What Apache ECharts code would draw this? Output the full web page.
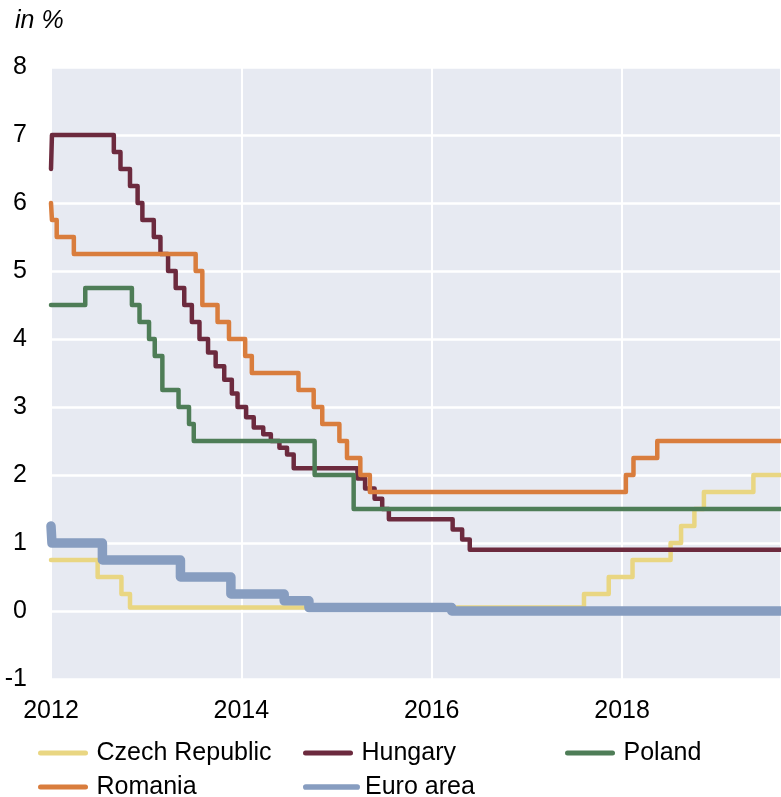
<!DOCTYPE html>
<html>
<head>
<meta charset="utf-8">
<script src="https://cdn.jsdelivr.net/npm/echarts@6/dist/echarts.min.js"></script>
<style>
  html, body { margin: 0; padding: 0; background: #fff; }
  #main { width: 781px; height: 797px; }
</style>
</head>
<body>
<div id="main"></div>
<script>
// policy rates, change points as decimal years
var czechDates = [2012.00, 2012.49, 2012.74, 2012.83, 2017.60, 2017.86, 2018.11, 2018.51, 2018.62, 2018.76, 2018.86, 2019.38, 2019.67];
var czechRates = [0.75, 0.5, 0.25, 0.05, 0.25, 0.5, 0.75, 1.0, 1.25, 1.5, 1.75, 2.0, 2.0];

var hungaryDates = [2012.00, 2012.01, 2012.66, 2012.73, 2012.83, 2012.91, 2012.96, 2013.08, 2013.15, 2013.23, 2013.31, 2013.40, 2013.48, 2013.56, 2013.65, 2013.73, 2013.82, 2013.90, 2013.96, 2014.05, 2014.13, 2014.23, 2014.31, 2014.40, 2014.48, 2014.55, 2015.22, 2015.30, 2015.40, 2015.48, 2015.55, 2016.22, 2016.32, 2016.40, 2019.67];
var hungaryRates = [6.5, 7.0, 6.75, 6.5, 6.25, 6.0, 5.75, 5.5, 5.25, 5.0, 4.75, 4.5, 4.25, 4.0, 3.8, 3.6, 3.4, 3.2, 3.0, 2.85, 2.7, 2.6, 2.5, 2.4, 2.3, 2.1, 1.95, 1.8, 1.65, 1.5, 1.35, 1.2, 1.05, 0.9, 0.9];

var polandDates = [2012.00, 2012.36, 2012.85, 2012.93, 2013.03, 2013.09, 2013.17, 2013.34, 2013.45, 2013.50, 2014.77, 2015.18, 2019.67];
var polandRates = [4.5, 4.75, 4.5, 4.25, 4.0, 3.75, 3.25, 3.0, 2.75, 2.5, 2.0, 1.5, 1.5];

var romaniaDates = [2012.00, 2012.01, 2012.06, 2012.24, 2013.52, 2013.59, 2013.75, 2013.87, 2014.04, 2014.11, 2014.60, 2014.76, 2014.85, 2015.03, 2015.11, 2015.25, 2015.35, 2018.04, 2018.12, 2018.37, 2019.67];
var romaniaRates = [6.0, 5.75, 5.5, 5.25, 5.0, 4.5, 4.25, 4.0, 3.75, 3.5, 3.25, 3.0, 2.75, 2.5, 2.25, 2.0, 1.75, 2.0, 2.25, 2.5, 2.5];

var euroDates = [2012.00, 2012.01, 2012.54, 2013.36, 2013.89, 2014.45, 2014.71, 2016.21, 2019.67];
var euroRates = [1.25, 1.0, 0.75, 0.5, 0.25, 0.15, 0.05, 0.0, 0.0];

var yearTicks = [2012, 2014, 2016, 2018];

function pairs(xs, ys) {
    var out = [];
    for (var i = 0; i < xs.length; i++) out.push([xs[i], ys[i]]);
    return out;
}

var font = 'Liberation Sans, Arial, sans-serif';
var capsule = 'path://M5,0 H95 A5,5 0 0 1 95,10 H5 A5,5 0 0 1 5,0 Z';

function stepSeries(name, xs, ys, color, width) {
    return {
        name: name,
        type: 'line',
        step: 'end',
        symbol: 'none',
        data: pairs(xs, ys),
        lineStyle: { color: color, width: width, cap: 'round', join: 'round' },
        itemStyle: { color: color },
        animation: false
    };
}

// one legend per entry so the 3-column layout can be placed exactly
function legendItem(name, left, top, thick) {
    return {
        data: [{ name: name, icon: capsule }],
        left: left, top: top,
        itemWidth: 57, itemHeight: thick,
        textStyle: { fontSize: 25, lineHeight: 26, color: '#000', fontFamily: font, padding: [0, 0, 0, 0] }
    };
}

var myChart = echarts.init(document.getElementById('main'));
var option = {
    textStyle: { fontFamily: font },
    title: {
        text: 'in %',
        left: 10,
        top: 4,
        textStyle: { fontFamily: font, fontStyle: 'italic', fontWeight: 'normal', fontSize: 25, color: '#000' }
    },
    grid: {
        left: 51, right: 0, top: 67, bottom: 118,
        show: true, backgroundColor: '#E7EAF2', borderWidth: 0
    },
    xAxis: {
        type: 'value',
        min: 2012, max: 2019.67, interval: 2,
        axisLine: { show: false }, axisTick: { show: false },
        splitLine: { show: true, lineStyle: { color: '#fff', width: 2 } },
        axisLabel: {
            margin: 20, fontSize: 25, color: '#000', fontFamily: font, showMaxLabel: false,
            formatter: function (v) { return yearTicks.indexOf(v) >= 0 ? String(v) : ''; }
        }
    },
    yAxis: {
        type: 'value',
        min: -1, max: 8, interval: 1,
        axisLine: { show: false }, axisTick: { show: false },
        splitLine: { show: true, lineStyle: { color: '#fff', width: 2.5 } },
        axisLabel: { margin: 24, fontSize: 25, color: '#000', fontFamily: font }
    },
    legend: [
        legendItem('Czech Republic', 33, 735, 5),
        legendItem('Hungary', 298, 735, 5),
        legendItem('Poland', 560, 735, 5),
        legendItem('Romania', 33, 769, 5),
        legendItem('Euro area', 298, 769, 9)
    ],
    series: [
        stepSeries('Czech Republic', czechDates, czechRates, '#E9D682', 4.5),
        stepSeries('Hungary', hungaryDates, hungaryRates, '#6C2A3E', 4.5),
        stepSeries('Poland', polandDates, polandRates, '#4E7D57', 4.5),
        stepSeries('Romania', romaniaDates, romaniaRates, '#D97D3D', 4.5),
        stepSeries('Euro area', euroDates, euroRates, '#879DC0', 9.5)
    ]
};
myChart.setOption(option);
</script>
</body>
</html>
